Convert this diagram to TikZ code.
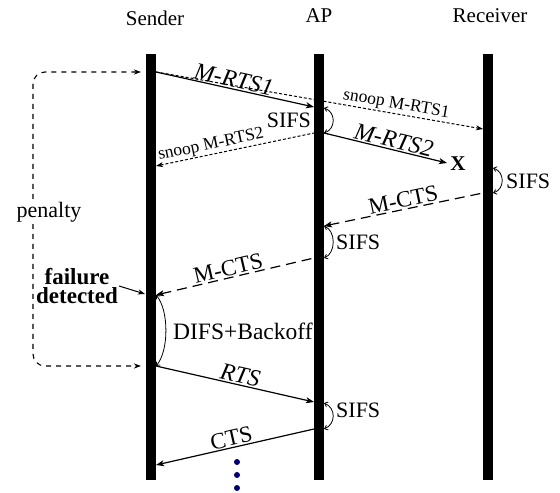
\documentclass[tikz,border=0pt]{standalone}
\usepackage{fontspec}
\setmainfont{Liberation Serif}
\usetikzlibrary{arrows.meta}
\begin{document}
\begin{tikzpicture}[x=1pt,y=1pt,
  bar/.style={fill=black,inner sep=0pt,minimum width=10pt,minimum height=426pt},
  head/.style={font=\fontsize{21}{24}\selectfont,anchor=base},
  msg/.style={line width=1.2pt,-{Stealth[length=8pt,width=6pt,inset=2pt]}},
  rmsg/.style={line width=1.2pt,{Stealth[length=8pt,width=6pt,inset=2pt]}-},
  snoopline/.style={line width=1pt,dash pattern=on 3pt off 2pt},
  ctsline/.style={line width=1.2pt,dash pattern=on 10pt off 6pt},
  penline/.style={line width=1.1pt,dash pattern=on 5pt off 5pt,rounded corners=12pt},
  gap/.style={line width=0.8pt,{Straight Barb[length=3pt,width=5pt]}-{Straight Barb[length=3pt,width=5pt]}},
  ital/.style={font=\fontsize{24}{26}\selectfont\itshape,inner sep=1pt},
  lbl/.style={font=\fontsize{23}{26}\selectfont,inner sep=1pt},
  small/.style={font=\fontsize{17.5}{20}\selectfont,inner sep=1pt},
  note/.style={font=\fontsize{22}{24}\selectfont,inner sep=1pt},
  dot/.style={circle,fill=blue!45!black,inner sep=0pt,minimum size=6pt}
]
\useasboundingbox (0,0) rectangle (560,-493);

% station time lines
\node[bar] (snd) at (151,-267) {};
\node[bar] (ap)  at (319,-267) {};
\node[bar] (rcv) at (488,-267) {};

\node[head] (sndname) at (155,-25) {Sender};
\node[head] (apname)  at (319,-22) {AP};
\node[head] (rcvname) at (490,-22) {Receiver};

% event points on the time lines
\coordinate (s1)  at (156,-72);
\coordinate (sL1) at (141,-72);
\coordinate (a1)  at (314,-107);
\coordinate (r1)  at (483,-129);
\coordinate (a2R) at (324,-133);
\coordinate (a2L) at (314,-133);
\coordinate (xend) at (447,-163);
\coordinate (s2)  at (156,-166);
\coordinate (r2)  at (493,-168);
\coordinate (r2b) at (493,-193);
\coordinate (r2L) at (483,-193);
\coordinate (a3R) at (324,-226);
\coordinate (a4R) at (324,-258);
\coordinate (a4L) at (314,-258);
\coordinate (s3)  at (156,-295);
\coordinate (sL3) at (145,-294);
\coordinate (s4)  at (156,-366);
\coordinate (sL4) at (141,-366);
\coordinate (a5)  at (314,-402);
\coordinate (a5R) at (324,-403);
\coordinate (a6R) at (324,-429);
\coordinate (a6)  at (314,-429);
\coordinate (s5)  at (156,-465);
\coordinate (a1R) at (324,-108);
\coordinate (pc1) at (33,-72);
\coordinate (pc2) at (33,-366);

% multicast RTS and its overheard copy
\draw[snoopline,-{Stealth[length=7pt,width=5pt,inset=2pt]}] (s1) -- node[small,sloped,above,pos=0.73] {snoop M-RTS1} (r1);
\draw[msg] (s1) -- node[ital,sloped,above,pos=0.48] {M-RTS1} (a1);
\draw[gap] (a1R) .. controls (336,-112) and (336,-129) .. (a2R);
\node[note,anchor=east] (sifs1) at (312,-120) {SIFS};

\draw[msg] (a2R) -- node[ital,sloped,above,pos=0.55] {M-RTS2} (xend);
\node[font=\fontsize{21}{24}\selectfont\bfseries,inner sep=0pt] (lost) at (458,-164) {X};
\draw[snoopline,{Stealth[length=7pt,width=5pt,inset=2pt]}-] (s2) -- node[small,sloped,above,pos=0.36] {snoop M-RTS2} (a2L);

% multicast CTS back to the sender
\draw[gap] (r2) .. controls (505,-172) and (505,-189) .. (r2b);
\node[note,anchor=west] (sifs2) at (505,-181) {SIFS};
\draw[ctsline,{Stealth[length=8pt,width=6pt,inset=2pt]}-] (a3R) -- node[lbl,sloped,above,pos=0.51] {M-CTS} (r2L);
\draw[gap] (a3R) .. controls (336,-231) and (336,-253) .. (a4R);
\node[note,anchor=west] (sifs3) at (335,-242) {SIFS};
\draw[ctsline,{Stealth[length=8pt,width=6pt,inset=2pt]}-] (s3) -- node[lbl,sloped,above,pos=0.47] {M-CTS} (a4L);

% failure and back-off
\node[font=\fontsize{23}{18.5}\selectfont\bfseries,align=center,inner sep=1pt] (fail) at (77,-286) {failure\\detected};
\draw[line width=1pt,-{Stealth[length=7pt,width=5pt,inset=2pt]}] (fail.east) -- (sL3);
\draw[gap] (s3) .. controls (169,-310) and (169,-351) .. (s4);
\node[font=\fontsize{23.5}{26}\selectfont,inner sep=1pt,anchor=west] (difs) at (172,-331) {DIFS+Backoff};

% penalty loop
\draw[penline,{Stealth[length=7pt,width=5pt,inset=2pt]}-{Stealth[length=7pt,width=5pt,inset=2pt]}] (sL1) -- (pc1) -- (pc2) -- (sL4);
\node[note,fill=white,inner sep=2pt] (pen) at (49,-212) {penalty};

% ordinary RTS/CTS retry
\draw[msg] (s4) -- node[ital,sloped,above,pos=0.52] {RTS} (a5);
\draw[gap] (a5R) .. controls (336,-408) and (336,-424) .. (a6R);
\node[note,anchor=west] (sifs4) at (335,-410) {SIFS};
\draw[rmsg] (s5) -- node[lbl,sloped,above,pos=0.49] {CTS} (a6);

% continuation
\node[dot] (d1) at (237,-462) {};
\node[dot] (d2) at (237,-475) {};
\node[dot] (d3) at (237,-488) {};
\end{tikzpicture}
\end{document}
